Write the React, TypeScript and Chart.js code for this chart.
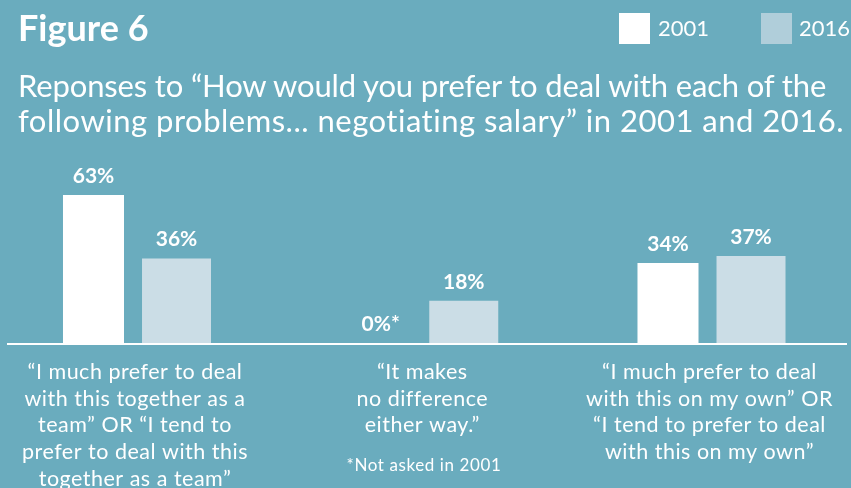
import React, { useEffect, useRef } from "react";
import { Chart, registerables } from "chart.js";

Chart.register(...registerables);

const titleText = "Figure 6";
const subtitleLines = [
  "Reponses to “How would you prefer to deal with each of the",
  "following problems... negotiating salary” in 2001 and 2016.",
];
const subtitleSpacing = ["-0.15px", "0.5px"];
const categories: string[][] = [
  ["“I much prefer to deal", "with this together as a", "team” OR “I tend to", "prefer to deal with this", "together as a team”"],
  ["“It makes", "no difference", "either way.”"],
  ["“I much prefer to deal", "with this on my own” OR", "“I tend to prefer to deal", "with this on my own”"],
];
const seriesNames = ["2001", "2016"];
const values2001 = [63, 0, 34];
const values2016 = [36, 18, 37];
const notAsked2001 = [false, true, false];
const footnote = "*Not asked in 2001";

const BG = "#6aacbe";
const C2001 = "#ffffff";
const C2016 = "#cbdde6";
const C2016_LEGEND = "#b0ceda";
const FONT = "Lato, 'Open Sans', sans-serif";

const overlayPlugin = {
  id: "overlay",
  beforeLayout(chart: any) {
    chart.ctx.letterSpacing = "0.5px";
  },
  beforeDraw(chart: any) {
    chart.ctx.letterSpacing = "0.5px";
  },
  beforeDatasetsDraw(chart: any) {
    const ctx = chart.ctx;
    const y0 = chart.scales.y.getPixelForValue(0);
    ctx.save();
    ctx.fillStyle = "#ffffff";
    ctx.fillRect(7, Math.round(y0), 840, 2);
    ctx.restore();
  },
  afterDatasetsDraw(chart: any) {
    const ctx = chart.ctx;
    ctx.save();
    ctx.letterSpacing = "0px";
    ctx.fillStyle = "#ffffff";
    ctx.font = `bold 21px ${FONT}`;
    ctx.textAlign = "center";
    ctx.textBaseline = "alphabetic";
    chart.data.datasets.forEach((ds: any, di: number) => {
      const meta = chart.getDatasetMeta(di);
      meta.data.forEach((el: any, i: number) => {
        const v = ds.data[i];
        const star = di === 0 && notAsked2001[i] ? "*" : "";
        ctx.fillText(`${v}%${star}`, el.x, el.y - 12);
      });
    });
    ctx.restore();
  },
};

export default function App() {
  const canvasRef = useRef<HTMLCanvasElement | null>(null);

  useEffect(() => {
    document.body.style.margin = "0";
    const canvas = canvasRef.current;
    if (!canvas) return;
    const chart = new Chart(canvas, {
      type: "bar",
      data: {
        labels: categories,
        datasets: [
          {
            label: seriesNames[0],
            data: values2001,
            backgroundColor: C2001,
            borderWidth: 0,
            clip: false,
            categoryPercentage: 0.578,
            barPercentage: 0.735,
          },
          {
            label: seriesNames[1],
            data: values2016,
            backgroundColor: C2016,
            borderWidth: 0,
            clip: false,
            categoryPercentage: 0.578,
            barPercentage: 0.831,
          },
        ],
      },
      options: {
        animation: false,
        responsive: false,
        maintainAspectRatio: false,
        devicePixelRatio: 1,
        layout: { padding: { left: 135, right: 141.5, top: 166.75, bottom: 0 } },
        plugins: {
          legend: { display: false },
          tooltip: { enabled: false },
          title: { display: false },
        },
        scales: {
          x: {
            offset: false,
            grid: { display: false, drawTicks: false },
            border: { display: false },
            ticks: {
              color: "#ffffff",
              font: { family: FONT, size: 21.5, lineHeight: "26.6px" },
              padding: 16,
              autoSkip: false,
              maxRotation: 0,
              minRotation: 0,
            },
          },
          y: {
            display: false,
            min: 0,
            max: 75,
          },
        },
      },
      plugins: [overlayPlugin],
    });
    return () => chart.destroy();
  }, []);

  return (
    <div
      style={{
        position: "fixed",
        left: 0,
        top: 0,
        width: 851,
        height: 488,
        overflow: "hidden",
        background: BG,
        fontFamily: FONT,
        color: "#ffffff",
      }}
    >
      <canvas
        ref={canvasRef}
        width={851}
        height={508}
        style={{ position: "absolute", left: 0, top: 0, width: 851, height: 508 }}
      />
      <div
        style={{
          position: "absolute",
          left: 18,
          top: 9,
          fontSize: 36,
          lineHeight: "36px",
          fontWeight: 700,
          whiteSpace: "nowrap",
        }}
      >
        {titleText}
      </div>
      <div style={{ position: "absolute", left: 619, top: 13, width: 31, height: 31, background: C2001 }} />
      <div style={{ position: "absolute", left: 658, top: 16.5, fontSize: 22, lineHeight: "22px" }}>{seriesNames[0]}</div>
      <div style={{ position: "absolute", left: 761, top: 13, width: 31, height: 31, background: C2016_LEGEND }} />
      <div style={{ position: "absolute", left: 799, top: 16.5, fontSize: 22, lineHeight: "22px" }}>{seriesNames[1]}</div>
      <div
        style={{
          position: "absolute",
          left: 18,
          top: 68,
          fontSize: 31,
          lineHeight: "34.5px",
          whiteSpace: "nowrap",
        }}
      >
        {subtitleLines.map((l, i) => (
          <div key={i} style={{ letterSpacing: subtitleSpacing[i] }}>
            {l}
          </div>
        ))}
      </div>
      <div
        style={{
          position: "absolute",
          left: 304,
          width: 240,
          top: 457,
          fontSize: 17,
          lineHeight: "15px",
          letterSpacing: "0.6px",
          textAlign: "center",
          whiteSpace: "nowrap",
        }}
      >
        {footnote}
      </div>
    </div>
  );
}
